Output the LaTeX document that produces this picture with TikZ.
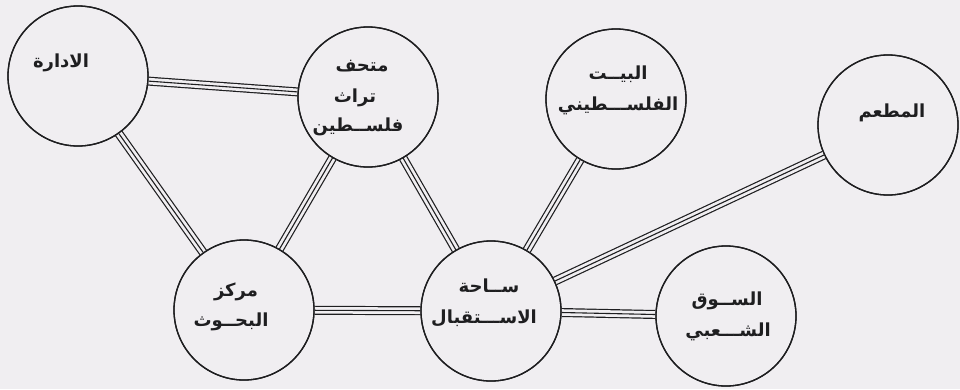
\documentclass[tikz,border=0pt]{standalone}
\usepackage{fontspec}
\TeXXeTstate=1
\newfontfamily\arabicfont[Script=Arabic]{DejaVu Sans}
\definecolor{paper}{RGB}{240,238,241}
\definecolor{ink}{RGB}{30,30,32}
\begin{document}
\begin{tikzpicture}[x=1pt,y=-1pt,
  room/.style={circle, draw=ink, line width=1.3pt, fill=paper,
               minimum size=140pt, inner sep=0pt},
  rim/.style={draw=ink, line width=1.3pt},
  roomtext/.style={font=\arabicfont\bfseries\fontsize{18}{20}\selectfont,
                   text=ink, inner sep=0pt, anchor=center},
  passage/.style={draw=ink, line width=9pt,
                  postaction={draw=paper, line width=6.6pt},
                  postaction={draw=ink, line width=1.1pt}}]
  % page
  \fill[paper] (0,0) rectangle (960,389);
  \useasboundingbox (0,0) rectangle (960,389);

  % rooms
  \node[room] (admin)    at (78,76)   {};
  \node[room] (museum)   at (368,97)  {};
  \node[room] (house)    at (616,99)  {};
  \node[room] (food)     at (888,125) {};
  \node[room] (research) at (244,310) {};
  \node[room] (hall)     at (491,311) {};
  \node[room] (market)   at (726,316) {};

  % passages between rooms
  \draw[passage] (admin) -- (museum);
  \draw[passage] (admin) -- (research);
  \draw[passage] (museum) -- (research);
  \draw[passage] (museum) -- (hall);
  \draw[passage] (house) -- (hall);
  \draw[passage] (food) -- (hall);
  \draw[passage] (research) -- (hall);
  \draw[passage] (hall) -- (market);

  % redraw the rims so passages stop cleanly at them
  \foreach \r in {admin,museum,house,food,research,hall,market}
    \draw[rim] (\r.center) circle[radius=70pt];

  % room names
  \node[roomtext] (t1)  at (61,63)   {\beginR الادارة\endR};
  \node[roomtext] (t2)  at (362,66)  {\beginR متحف\endR};
  \node[roomtext] (t3)  at (355,98)  {\beginR تراث\endR};
  \node[roomtext] (t4)  at (358,127) {\beginR فلســطين\endR};
  \node[roomtext] (t5)  at (618,74)  {\beginR البيــت\endR};
  \node[roomtext] (t6)  at (618,106) {\beginR الفلســـطيني\endR};
  \node[roomtext] (t7)  at (892,113) {\beginR المطعم\endR};
  \node[roomtext] (t8)  at (236,292) {\beginR مركز\endR};
  \node[roomtext] (t9)  at (231,322) {\beginR البحــوث\endR};
  \node[roomtext] (t10) at (489,286) {\beginR ســاحة\endR};
  \node[roomtext] (t11) at (484,318) {\beginR الاســـتقبال\endR};
  \node[roomtext] (t12) at (727,301) {\beginR الســوق\endR};
  \node[roomtext] (t13) at (728,332) {\beginR الشـــعبي\endR};
\end{tikzpicture}
\end{document}
